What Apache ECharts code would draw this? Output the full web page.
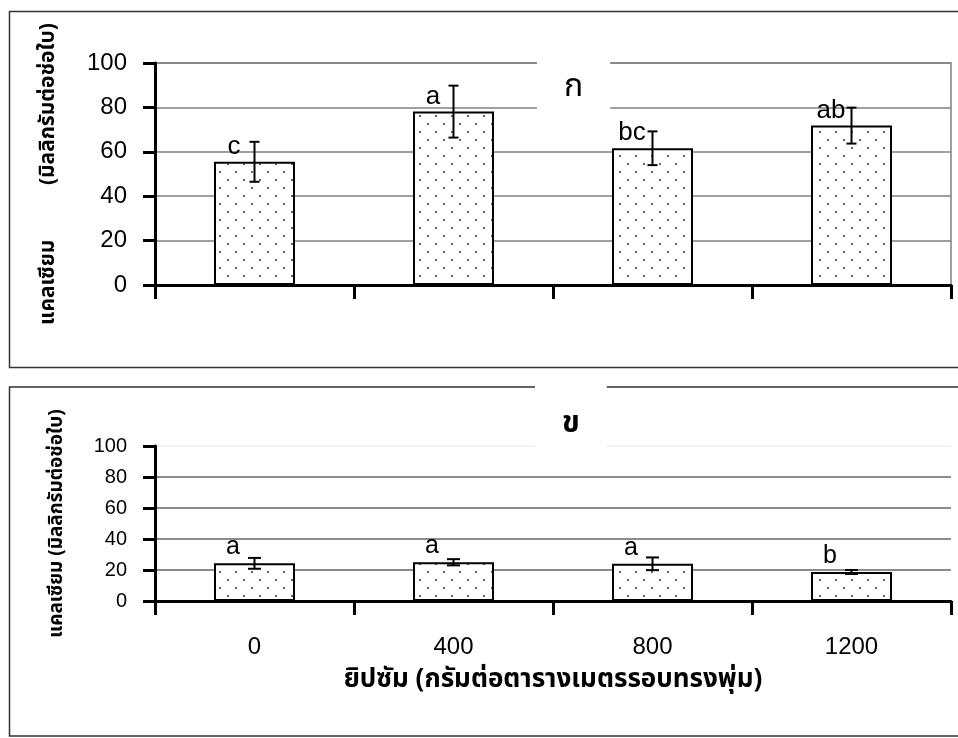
<!DOCTYPE html>
<html>
<head>
<meta charset="utf-8">
<script src="https://cdn.jsdelivr.net/npm/echarts@6/dist/echarts.min.js"></script>
<style>
  html, body { margin: 0; padding: 0; background: #fff; }
  #chart { width: 958px; height: 738px; }
</style>
</head>
<body>
<div id="chart"></div>
<script>
// Gypsum rate per square metre of canopy area
const categories = ['0', '400', '800', '1200'];

// Panel ก : calcium, mg per leaf cluster
const topMeans = [55.5, 78.1, 61.6, 71.8];
const topErrors = [9.0, 11.7, 7.6, 8.1];
const topLetters = ['c', 'a', 'bc', 'ab'];

// Panel ข : calcium, mg per leaf cluster
const bottomMeans = [24.3, 25.0, 24.0, 18.7];
const bottomErrors = [3.5, 2.0, 4.1, 1.3];
const bottomLetters = ['a', 'a', 'a', 'b'];

const yTicks = [0, 20, 40, 60, 80, 100];

const latin = '"Liberation Sans", Arial, Helvetica, sans-serif';
const thai = 'Tahoma, "Noto Sans Thai", Loma, Garuda, "Liberation Sans", sans-serif';

// dotted fill used inside the bars
function dotPattern() {
  const c = document.createElement('canvas');
  c.width = 16; c.height = 16;
  const g = c.getContext('2d');
  g.fillStyle = '#fff';
  g.fillRect(0, 0, 16, 16);
  g.fillStyle = '#666';
  g.fillRect(3, 3, 2, 2);
  g.fillRect(11, 11, 2, 2);
  return { image: c, repeat: 'repeat' };
}
const pattern = dotPattern();

function errorData(means, errs) {
  return means.map((m, i) => [i, m - errs[i], m + errs[i]]);
}

function errorBars(capHalf) {
  return function (params, api) {
    const lo = api.coord([api.value(0), api.value(1)]);
    const hi = api.coord([api.value(0), api.value(2)]);
    const style = { stroke: '#000', lineWidth: 2, fill: null };
    return {
      type: 'group',
      children: [
        { type: 'line', shape: { x1: hi[0], y1: hi[1], x2: lo[0], y2: lo[1] }, style },
        { type: 'line', shape: { x1: hi[0] - capHalf, y1: hi[1], x2: hi[0] + capHalf, y2: hi[1] }, style },
        { type: 'line', shape: { x1: lo[0] - capHalf, y1: lo[1], x2: lo[0] + capHalf, y2: lo[1] }, style }
      ]
    };
  };
}

function valueAxis(gridIndex, fontSize, name, nameFont, nameGap, splitColors, splitWidth) {
  return {
    type: 'value', gridIndex,
    min: yTicks[0], max: yTicks[yTicks.length - 1], interval: yTicks[1] - yTicks[0],
    name, nameLocation: 'middle', nameGap, nameRotate: 90,
    nameTextStyle: { fontFamily: thai, fontWeight: 'bold', fontSize: nameFont, color: '#000' },
    axisLine: { show: true, lineStyle: { color: '#000', width: 3 } },
    axisTick: { show: true, inside: false, length: 12, lineStyle: { color: '#000', width: 3 } },
    axisLabel: { fontFamily: latin, fontSize, color: '#000', margin: 28 },
    splitLine: { show: true, lineStyle: { color: splitColors, width: splitWidth } }
  };
}

function categoryAxis(gridIndex, showLabels) {
  return {
    type: 'category', gridIndex, data: categories, boundaryGap: true,
    axisLine: { show: true, lineStyle: { color: '#000', width: 3 } },
    axisTick: { show: true, inside: false, length: 14, alignWithLabel: false, lineStyle: { color: '#000', width: 3 } },
    axisLabel: { show: showLabels, fontFamily: latin, fontSize: 24, color: '#000', margin: 34 },
    splitLine: { show: false },
    name: showLabels ? 'ยิปซัม (กรัมต่อตารางเมตรรอบทรงพุ่ม)' : '',
    nameLocation: 'middle', nameGap: 68,
    nameTextStyle: { fontFamily: thai, fontWeight: 'bold', fontSize: 26, color: '#000' }
  };
}

function barSeries(axisIndex, values, letters, letterSize, letterPos) {
  return {
    type: 'bar', xAxisIndex: axisIndex, yAxisIndex: axisIndex,
    data: values, barWidth: 81,
    itemStyle: { color: pattern, borderColor: '#000', borderWidth: 2 },
    label: {
      show: true, position: letterPos, align: 'center', verticalAlign: 'middle',
      fontFamily: latin, fontSize: letterSize, color: '#000',
      formatter: p => letters[p.dataIndex]
    },
    emphasis: { disabled: true }, silent: true, animation: false
  };
}

const chart = echarts.init(document.getElementById('chart'), null, { renderer: 'canvas' });

chart.setOption({
  backgroundColor: '#fff',
  animation: false,
  title: [
    { text: 'ก', left: 537, top: 55, padding: [18, 27, 18, 27], backgroundColor: '#fff',
      textStyle: { fontFamily: thai, fontSize: 32, fontWeight: 'normal', color: '#000', lineHeight: 34 } },
    { text: 'ข', left: 535, top: 383, padding: [28, 27, 10, 27], backgroundColor: '#fff',
      textStyle: { fontFamily: thai, fontSize: 30, fontWeight: 'bold', color: '#000', lineHeight: 30 } }
  ],
  graphic: [
    { type: 'rect', z: 0, shape: { x: 9.5, y: 11.5, width: 960, height: 356 },
      style: { fill: null, stroke: '#333', lineWidth: 1.5 } },
    { type: 'rect', z: 0, shape: { x: 9.5, y: 387, width: 960, height: 349 },
      style: { fill: null, stroke: '#333', lineWidth: 1.5 } }
  ],
  grid: [
    { left: 155, top: 63, width: 796, height: 222, show: true, borderColor: '#808080', borderWidth: 1.5, backgroundColor: 'transparent' },
    { left: 155, top: 446, width: 796, height: 155 }
  ],
  xAxis: [categoryAxis(0, false), categoryAxis(1, true)],
  yAxis: [
    valueAxis(0, 24, 'แคลเซียม          (มิลลิกรัมต่อช่อใบ)', 21, 95, ['#808080'], 1.5),
    valueAxis(1, 20, 'แคลเซียม (มิลลิกรัมต่อช่อใบ)', 19, 87,
      ['#666666', '#666666', '#666666', '#666666', '#666666', '#ececec'], 1.5)
  ],
  series: [
    barSeries(0, topMeans, topLetters, 26, [20, -15]),
    {
      type: 'custom', xAxisIndex: 0, yAxisIndex: 0,
      data: errorData(topMeans, topErrors), encode: { x: 0, y: [1, 2] },
      renderItem: errorBars(5), silent: true, z: 5
    },
    barSeries(1, bottomMeans, bottomLetters, 25, [19, -16]),
    {
      type: 'custom', xAxisIndex: 1, yAxisIndex: 1,
      data: errorData(bottomMeans, bottomErrors), encode: { x: 0, y: [1, 2] },
      renderItem: errorBars(6.5), silent: true, z: 5
    }
  ]
});
</script>
</body>
</html>
